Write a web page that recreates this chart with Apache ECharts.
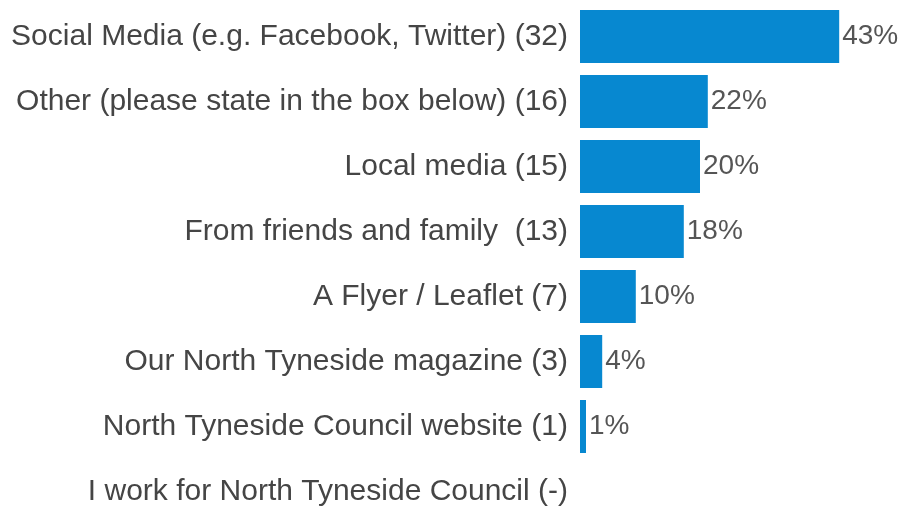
<!DOCTYPE html>
<html style="height: 100%">
<head>
    <meta charset="utf-8">
    <script type="text/javascript" src="https://cdn.jsdelivr.net/npm/echarts@6/dist/echarts.min.js"></script>
</head>
<body style="height: 100%; margin: 0; background: #fff; overflow: hidden">
<!-- taller than the window on purpose: the last row runs past the bottom edge -->
<div id="container" style="height: 540px;width: 900px;position: absolute;top: 0;left: 0px;"></div>
<script type="text/javascript">
    // answers, top to bottom
    var categories = [
        'Social Media (e.g. Facebook, Twitter) (32)',
        'Other (please state in the box below) (16)',
        'Local media (15)',
        'From friends and family  (13)',
        'A Flyer / Leaflet (7)',
        'Our North Tyneside magazine (3)',
        'North Tyneside Council website (1)',
        'I work for North Tyneside Council (-)'
    ];
    // bar lengths (percent of respondents)
    var values = [43.2, 21.3, 20.0, 17.3, 9.3, 3.7, 1.0, 0];
    // text printed at the end of each bar
    var valueLabels = ['43%', '22%', '20%', '18%', '10%', '4%', '1%', ''];

    var dom = document.getElementById("container");
    var myChart = echarts.init(dom, null, {renderer: 'canvas'});
    var option = {
        animation: false,
        grid: {
            left: 580,
            top: 4,
            width: 300,
            height: 520
        },
        xAxis: {
            type: 'value',
            min: 0,
            max: 50,
            show: false
        },
        yAxis: {
            type: 'category',
            inverse: true,
            data: categories,
            axisLine: {show: false},
            axisTick: {show: false},
            splitLine: {show: false},
            axisLabel: {
                margin: 12,
                color: '#454545',
                fontSize: 30,
                fontFamily: '"Liberation Sans", Arial, sans-serif'
            }
        },
        series: [{
            type: 'bar',
            data: values,
            barWidth: 53,
            itemStyle: {color: '#0788d0'},
            label: {
                show: true,
                position: 'right',
                distance: 3,
                color: '#555555',
                fontSize: 28,
                fontFamily: '"Liberation Sans", Arial, sans-serif',
                formatter: function (p) {
                    return valueLabels[p.dataIndex];
                }
            }
        }]
    };
    myChart.setOption(option, true);
</script>
</body>
</html>
